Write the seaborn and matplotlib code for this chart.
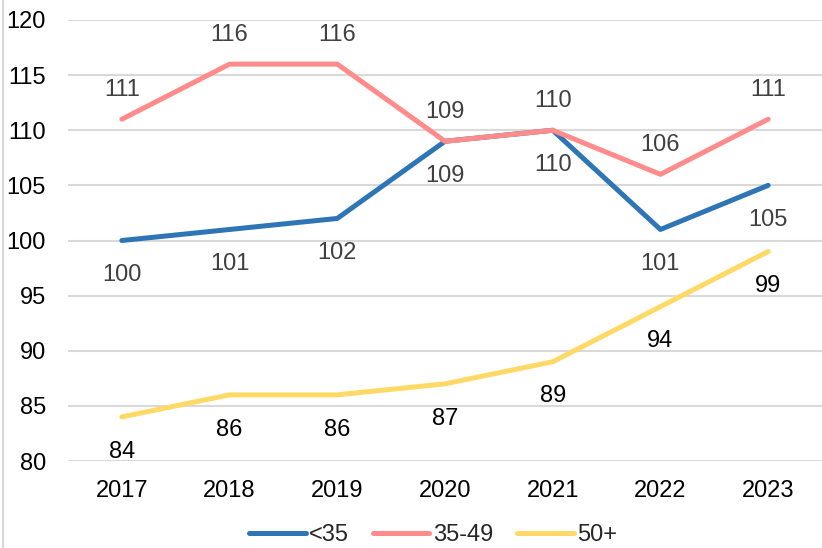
import pandas as pd
import matplotlib.pyplot as plt
import seaborn as sns
from matplotlib.lines import Line2D

years = ["2017", "2018", "2019", "2020", "2021", "2022", "2023"]
under35 = [100, 101, 102, 109, 110, 101, 105]
mid35_49 = [111, 116, 116, 109, 110, 106, 111]
over50 = [84, 86, 86, 87, 89, 94, 99]
series_names = ["<35", "35-49", "50+"]

colors = {"<35": "#2E75B6", "35-49": "#FF8B8B", "50+": "#FFD966"}
label_colors = {"<35": "#404040", "35-49": "#404040", "50+": "#000000"}

df = pd.DataFrame({"year": years * 3,
                   "value": under35 + mid35_49 + over50,
                   "group": [n for n in series_names for _ in years]})
df["x"] = df.groupby("group").cumcount()

sns.set_style("white")
plt.rcParams["font.family"] = ["Liberation Sans", "DejaVu Sans"]

fig = plt.figure(figsize=(8.22, 5.48), dpi=100)
ax = fig.add_axes([68 / 822, 1 - 461 / 548, 1 - 68 / 822, (461 - 20) / 548])

sns.lineplot(data=df, x="x", y="value", hue="group", palette=colors,
             linewidth=3.6, ax=ax, legend=False, sort=False)
for line in ax.get_lines():
    line.set_solid_capstyle("round")

# data labels: pink above, blue/yellow below
for name, vals in zip(series_names, [under35, mid35_49, over50]):
    for i, v in enumerate(vals):
        dy = 21 if name == "35-49" else -25
        ax.annotate(str(v), (i, v), xytext=(0, dy), textcoords="offset points",
                    ha="center", va="center", fontsize=17,
                    color=label_colors[name])

ax.set_xlim(-0.5, 6.5)
ax.set_ylim(80, 120)
ax.set_yticks(range(80, 121, 5))
ax.set_xticks(range(len(years)))
ax.set_xticklabels(years)
ax.tick_params(axis="both", labelsize=17, colors="black", length=0)
ax.tick_params(axis="x", pad=14)
ax.tick_params(axis="y", pad=16)
ax.yaxis.grid(True, color="#D9D9D9", linewidth=1.5)
ax.set_axisbelow(True)
for s in ax.spines.values():
    s.set_visible(False)
ax.set_xlabel("")
ax.set_ylabel("")

handles = [Line2D([0], [0], color=colors[n], linewidth=3.6, solid_capstyle="round")
           for n in series_names]
fig.legend(handles, series_names, loc="center", bbox_to_anchor=(433 / 822, 1 - 535 / 548),
           ncol=3, frameon=False, fontsize=17, handlelength=2.4, handletextpad=0.15,
           columnspacing=1.0)

fig.add_artist(Line2D([3 / 822, 3 / 822], [0, 1], color="#D9D9D9", linewidth=1.5))

fig.savefig("out.png", dpi=100)
